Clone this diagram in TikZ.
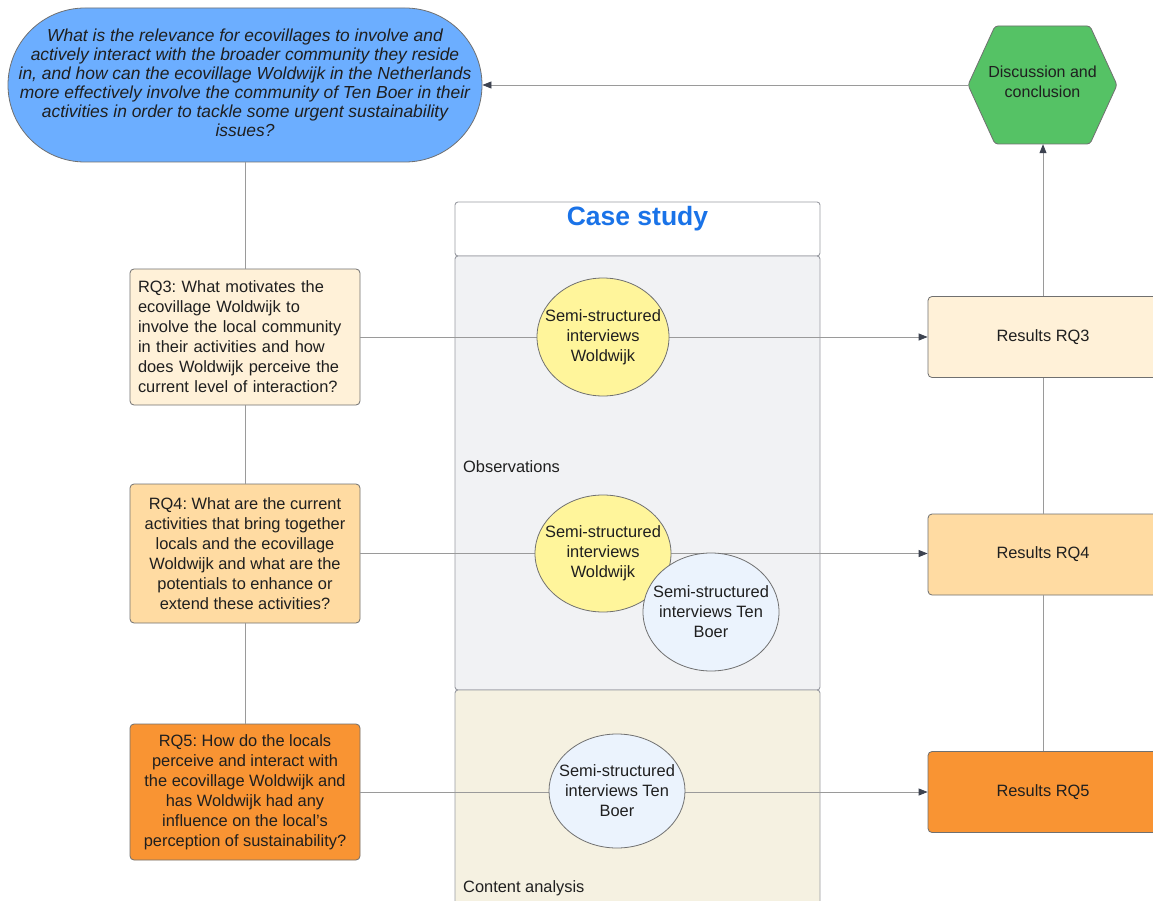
\documentclass[tikz,border=0pt]{standalone}
\usepackage{fontspec}
\setmainfont{Liberation Sans}
\usetikzlibrary{arrows.meta,shapes.geometric}
\definecolor{txt}{HTML}{1F1F1F}
\definecolor{bord}{HTML}{707070}
\definecolor{lanebord}{HTML}{9A9CA3}
\definecolor{connc}{HTML}{9A9A9A}
\definecolor{arrowc}{HTML}{3D4350}
\definecolor{qblue}{HTML}{6CAEFF}
\definecolor{hexgreen}{HTML}{55C265}
\definecolor{rqa}{HTML}{FFF1D8}
\definecolor{rqb}{HTML}{FFDBA2}
\definecolor{rqc}{HTML}{F99433}
\definecolor{yellowc}{HTML}{FFF59B}
\definecolor{bluec}{HTML}{EBF3FD}
\definecolor{obsfill}{HTML}{F1F2F4}
\definecolor{confill}{HTML}{F5F1E1}
\definecolor{csblue}{HTML}{1A73E8}
\begin{document}
\frenchspacing
\begin{tikzpicture}[x=1pt,y=-1pt,
  every node/.style={text=txt},
  mainq/.style={draw=bord,line width=0.8pt,fill=qblue,rounded corners=77pt,minimum width=474pt,minimum height=154pt,inner sep=0pt},
  mainqtext/.style={inner sep=0pt,align=center,font=\fontsize{17.4}{19}\selectfont\itshape},
  rqbox/.style={draw=bord,line width=0.8pt,rounded corners=4pt,minimum width=230pt,inner sep=0pt,font=\fontsize{16.4}{20}\selectfont},
  resbox/.style={draw=bord,line width=0.8pt,rounded corners=4pt,minimum width=230pt,minimum height=81pt,inner sep=0pt,font=\fontsize{16.4}{20}\selectfont},
  lane/.style={draw=lanebord,line width=0.9pt,rounded corners=3pt},
  circ/.style={ellipse,draw=bord,line width=0.8pt,inner xsep=-16pt,inner ysep=0pt,align=center,font=\fontsize{16.4}{20}\selectfont},
  lanelabel/.style={anchor=west,inner sep=0pt,font=\fontsize{16.4}{20}\selectfont},
  conn/.style={draw=connc,line width=0.8pt},
  arr/.style={conn,-{Triangle[length=9pt,width=7pt,color=arrowc]}}
]
\clip (0,0) rectangle (1153,901);
\fill[white] (0,0) rectangle (1153,901);

% swimlanes
\draw[lane,fill=white] (455,202) rectangle (820,256);
\draw[lane,fill=obsfill] (455,256) rectangle (820,690);
\draw[lane,fill=confill] (455,690) rectangle (820,915);
\node[inner sep=0pt,text=csblue,font=\fontsize{26.5}{30}\selectfont\bfseries] (cs) at (637.5,219) {Case study};
\node[lanelabel] (obs) at (463,467) {Observations};
\node[lanelabel] (con) at (463,888) {Content analysis};

% main question
\node[mainq] (q) at (245,85) {};
\node[mainqtext] (qt) at (245,82.5) {What is the relevance for ecovillages to involve and\\actively interact with the broader community they reside\\in, and how can the ecovillage Woldwijk in the Netherlands\\more effectively involve the community of Ten Boer in their\\activities in order to tackle some urgent sustainability\\issues?};

% research question boxes
\node[rqbox,fill=rqa,minimum height=136pt,text width=214pt,align=left] (rq3) at (245,337) {RQ3: What motivates the\\ecovillage Woldwijk to\\involve the local community\\in their activities and how\\does Woldwijk perceive the\\current level of interaction?};
\node[rqbox,fill=rqb,minimum height=139pt,align=center] (rq4) at (245,553.5) {RQ4: What are the current\\activities that bring together\\locals and the ecovillage\\Woldwijk and what are the\\potentials to enhance or\\extend these activities?};
\node[rqbox,fill=rqc,minimum height=136pt,align=center] (rq5) at (245,792) {RQ5: How do the locals\\perceive and interact with\\the ecovillage Woldwijk and\\has Woldwijk had any\\influence on the local’s\\perception of sustainability?};

% results boxes
\node[resbox,fill=rqa] (res3) at (1043,337) {Results RQ3};
\node[resbox,fill=rqb] (res4) at (1043,554.5) {Results RQ4};
\node[resbox,fill=rqc] (res5) at (1043,792) {Results RQ5};

% hexagon
\draw[draw=bord,line width=0.8pt,fill=hexgreen,rounded corners=3pt] (968,85) -- (995,26) -- (1090,26) -- (1117,85) -- (1090,144) -- (995,144) -- cycle;
\node[minimum width=149pt,minimum height=118pt,inner sep=0pt] (hex) at (1042.5,85) {};
\node[inner sep=0pt,align=center,font=\fontsize{16}{19.5}\selectfont] (hext) at (1042.5,82) {Discussion and\\conclusion};

% connectors
\draw[conn] (q.south) -- (rq3.north);
\draw[conn] (rq3.south) -- (rq4.north);
\draw[conn] (rq4.south) -- (rq5.north);
\draw[arr] (hex.west) -- (q.east);
\draw[arr] (rq3.east) -- (res3.west);
\draw[arr] (rq4.east) -- (rq4.east -| res4.west);
\draw[arr] (rq5.east) -- (res5.west);
\draw[conn] (res5.north) -- (res4.south);
\draw[conn] (res4.north) -- (res3.south);
\draw[arr] (res3.north) -- (res3.north |- hex.south);

% interview circles
\node[circ,fill=yellowc,minimum width=132pt,minimum height=118pt] (c1) at (603,337) {Semi-structured\\interviews\\Woldwijk};
\node[circ,fill=yellowc,minimum width=136pt,minimum height=117pt] (c2) at (603,553.5) {Semi-structured\\interviews\\Woldwijk};
\node[circ,fill=bluec,minimum width=136pt,minimum height=118pt] (c3) at (711,612) {Semi-structured\\interviews Ten\\Boer};
\node[circ,fill=bluec,minimum width=136pt,minimum height=114pt] (c4) at (617,791) {Semi-structured\\interviews Ten\\Boer};
\end{tikzpicture}
\end{document}
